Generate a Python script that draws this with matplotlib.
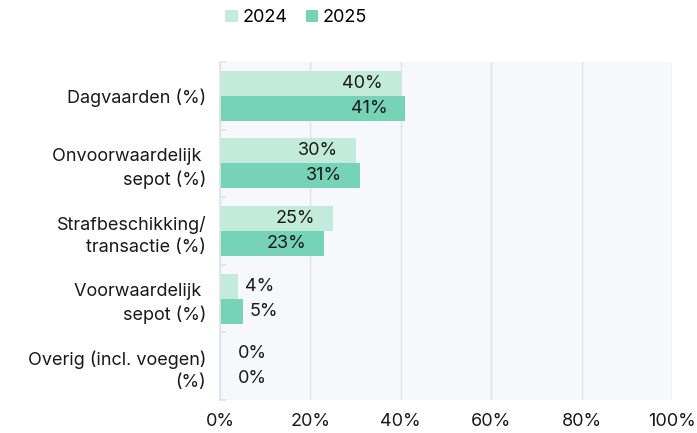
import matplotlib
matplotlib.use("Agg")
import matplotlib.pyplot as plt
import numpy as np

plt.rcParams["font.family"] = ["Inter", "DejaVu Sans"]

categories = [
    "Dagvaarden (%)",
    "Onvoorwaardelijk \nsepot (%)",
    "Strafbeschikking/\ntransactie (%)",
    "Voorwaardelijk \nsepot (%)",
    "Overig (incl. voegen)\n(%)",
]
vals_2024 = [40, 30, 25, 4, 0]
vals_2025 = [41, 31, 23, 5, 0]
x_ticks = [0, 20, 40, 60, 80, 100]

COL_2024 = "#c2ebdc"
COL_2025 = "#76d3b6"
GRID = "#dfe3ec"
TEXT = "#1a1a1a"
FS = 13

fig = plt.figure(figsize=(6.97, 4.33), dpi=100)
ax = fig.add_axes([0.3156, 0.0762, 0.6485, 0.7806])
ax.set_facecolor("#f7f8fb")

y = np.arange(len(categories))
h = 0.37
ax.barh(y - h / 2, vals_2024, height=h, color=COL_2024, label="2024", zorder=2)
ax.barh(y + h / 2, vals_2025, height=h, color=COL_2025, label="2025", zorder=2)

# value labels: inside (right aligned) for larger bars, outside for small ones
for offs, vals in [(-h / 2, vals_2024), (h / 2, vals_2025)]:
    for yi, v in zip(y, vals):
        if v >= 10:
            ax.annotate(f"{v}%", (v, yi + offs), xytext=(-13, 0), textcoords="offset points",
                        ha="right", va="center", fontsize=FS, color=TEXT, zorder=3)
        else:
            ax.text(max(v, 2.4) + 1.6, yi + offs, f"{v}%", ha="left", va="center",
                    fontsize=FS, color=TEXT, zorder=3)

ax.set_xlim(0, 100)
ax.set_ylim(len(categories) - 0.5, -0.5)
ax.set_xticks(x_ticks)
ax.set_xticklabels([f"{t}%" for t in x_ticks], fontsize=FS, color=TEXT)
ax.set_yticks(y)
ax.set_yticklabels(categories, fontsize=FS, color=TEXT, ha="right", linespacing=1.4)
ax.set_yticks(np.arange(len(categories) + 1) - 0.5, minor=True)

ax.tick_params(axis="x", length=0, pad=9)
ax.tick_params(axis="y", which="major", length=0, pad=10)
ax.tick_params(axis="y", which="minor", length=4, width=1.2, color=GRID, direction="in")

ax.grid(axis="x", color=GRID, linewidth=1, zorder=1)
for s in ["top", "right", "bottom"]:
    ax.spines[s].set_visible(False)
ax.spines["left"].set_color(GRID)
ax.spines["left"].set_linewidth(1.2)

fig.legend(loc="upper left", bbox_to_anchor=(0.313, 0.995), ncol=2, frameon=False,
           fontsize=FS, handlelength=0.7, handleheight=0.7, handletextpad=0.25,
           columnspacing=1.0, borderaxespad=0)

plt.savefig("out.png", dpi=100)
